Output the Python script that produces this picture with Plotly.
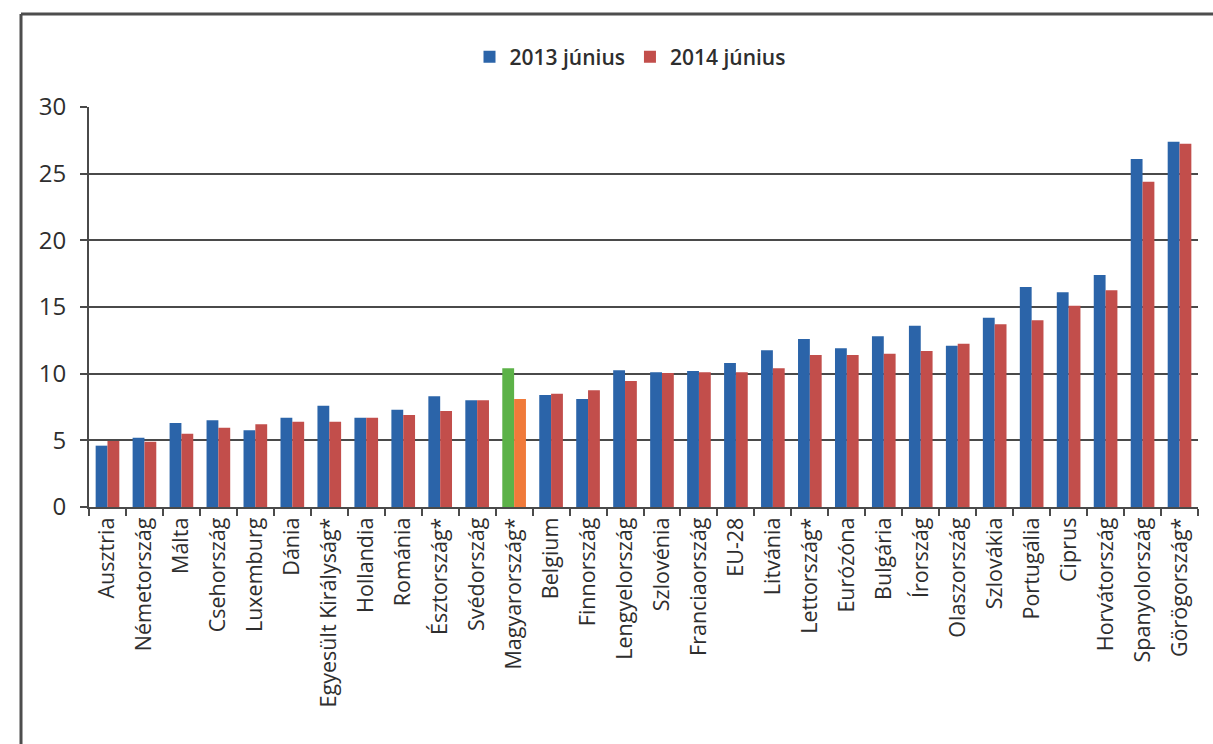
import plotly.graph_objects as go

# Munkanélküliségi ráta (%), országonként
orszagok = [
    "Ausztria", "Németország", "Málta", "Csehország", "Luxemburg", "Dánia",
    "Egyesült Királyság*", "Hollandia", "Románia", "Észtország*", "Svédország",
    "Magyarország*", "Belgium", "Finnország", "Lengyelország", "Szlovénia",
    "Franciaország", "EU-28", "Litvánia", "Lettország*", "Eurózóna", "Bulgária",
    "Írország", "Olaszország", "Szlovákia", "Portugália", "Ciprus",
    "Horvátország", "Spanyolország", "Görögország*",
]

jun_2013 = [
    4.6, 5.2, 6.3, 6.5, 5.75, 6.7, 7.6, 6.7, 7.3, 8.3, 8.0,
    10.4, 8.4, 8.1, 10.25, 10.1, 10.2, 10.8, 11.75, 12.6, 11.9, 12.8,
    13.6, 12.1, 14.2, 16.5, 16.1, 17.4, 26.1, 27.4,
]

jun_2014 = [
    4.95, 4.9, 5.5, 5.95, 6.2, 6.4, 6.4, 6.7, 6.9, 7.2, 8.0,
    8.1, 8.5, 8.75, 9.45, 10.05, 10.1, 10.1, 10.4, 11.4, 11.4, 11.5,
    11.7, 12.25, 13.7, 14.0, 15.1, 16.25, 24.4, 27.25,
]

sorozat_nevek = ["2013 június", "2014 június"]
y_tickek = [0, 5, 10, 15, 20, 25, 30]

KEK = "#2b64a9"
PIROS = "#c24e4b"
ZOLD = "#5cb248"
NARANCS = "#f07a3a"

kiemelt = "Magyarország*"
szin_2013 = [ZOLD if o == kiemelt else KEK for o in orszagok]
szin_2014 = [NARANCS if o == kiemelt else PIROS for o in orszagok]

fig = go.Figure()
fig.add_trace(go.Bar(x=orszagok, y=jun_2013, name=sorozat_nevek[0],
                     marker=dict(color=szin_2013, line=dict(width=0))))
fig.add_trace(go.Bar(x=orszagok, y=jun_2014, name=sorozat_nevek[1],
                     marker=dict(color=szin_2014, line=dict(width=0))))

BAL, JOBB, FENT, LENT = 89, 15, 107, 237
W, H = 1213, 744
pw = W - BAL - JOBB
ph = H - FENT - LENT


def px_x(px):
    return (px - BAL) / pw


def px_y(py):
    return (H - LENT - py) / ph


tengely_szin = "#4a4a4a"
szoveg_szin = "#2e2e2e"
betu = "Open Sans, Lato, sans-serif"

fig.update_layout(
    width=W, height=H,
    margin=dict(l=BAL, r=JOBB, t=FENT, b=LENT),
    paper_bgcolor="white", plot_bgcolor="white",
    barmode="group", bargap=0.36, bargroupgap=0.0,
    font=dict(family=betu, color=szoveg_szin),
    showlegend=True,
    legend=dict(orientation="h", x=px_x(630), y=px_y(57),
                xanchor="center", yanchor="middle",
                font=dict(size=21, color=szoveg_szin, weight=600),
                itemwidth=30, traceorder="normal",
                bgcolor="rgba(0,0,0,0)"),
    xaxis=dict(
        type="category", tickangle=-90,
        tickfont=dict(size=21.5, color=szoveg_szin),
        showline=True, linecolor=tengely_szin, linewidth=2,
        ticks="outside", tickson="boundaries", ticklen=7,
        tickcolor=tengely_szin, tickwidth=2,
        showgrid=False,
    ),
    yaxis=dict(
        range=[0, 30], tickvals=y_tickek,
        tickfont=dict(size=24, color=szoveg_szin),
        showline=True, linecolor=tengely_szin, linewidth=2,
        ticks="outside", ticklen=7, tickcolor=tengely_szin, tickwidth=2,
        ticklabelstandoff=9,
        showgrid=True, gridcolor=tengely_szin, gridwidth=2,
        zeroline=False,
    ),
    shapes=[
        # keret: felső és bal oldali vonal
        dict(type="line", xref="paper", yref="paper",
             x0=px_x(21), x1=px_x(W + 5), y0=px_y(14), y1=px_y(14),
             line=dict(color="#4d4d4d", width=3)),
        dict(type="line", xref="paper", yref="paper",
             x0=px_x(21), x1=px_x(21), y0=px_y(14), y1=px_y(H + 5),
             line=dict(color="#4d4d4d", width=3)),
    ],
)

fig.write_html("out.html")
